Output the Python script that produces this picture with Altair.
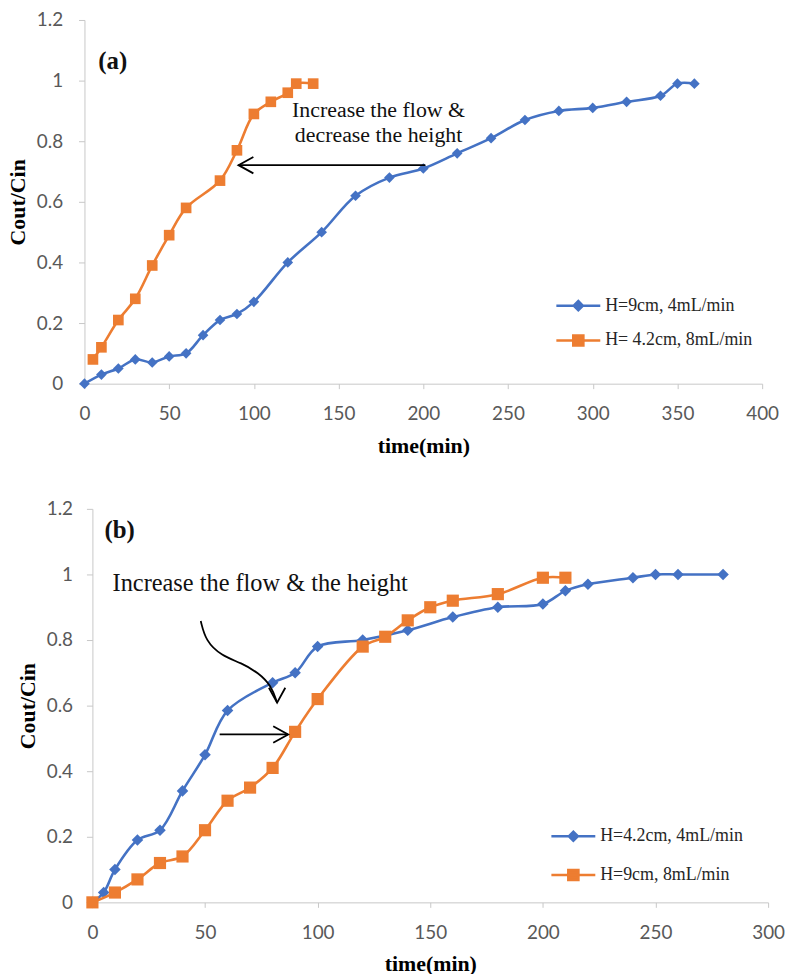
import altair as alt
import pandas as pd

# ---------------- data: panel (a) ----------------
a_series = ["H=9cm, 4mL/min", "H= 4.2cm, 8mL/min"]
a_blue_t = [0, 10, 20, 30, 40, 50, 60, 70, 80, 90, 100, 120, 140, 160, 180, 200, 220, 240, 260, 280, 300, 320, 340, 350, 360]
a_blue_c = [0, 0.03, 0.05, 0.08, 0.07, 0.09, 0.10, 0.16, 0.21, 0.23, 0.27, 0.40, 0.50, 0.62, 0.68, 0.71, 0.76, 0.81, 0.87, 0.90, 0.91, 0.93, 0.95, 0.99, 0.99]
a_orange_t = [5, 10, 20, 30, 40, 50, 60, 80, 90, 100, 110, 120, 125, 135]
a_orange_c = [0.08, 0.12, 0.21, 0.28, 0.39, 0.49, 0.58, 0.67, 0.77, 0.89, 0.93, 0.96, 0.99, 0.99]
a_x_ticks = [0, 50, 100, 150, 200, 250, 300, 350, 400]

# ---------------- data: panel (b) ----------------
b_series = ["H=4.2cm, 4mL/min", "H=9cm, 8mL/min"]
b_blue_t = [0, 5, 10, 20, 30, 40, 50, 60, 80, 90, 100, 120, 140, 160, 180, 200, 210, 220, 240, 250, 260, 280]
b_blue_c = [0, 0.03, 0.10, 0.19, 0.22, 0.34, 0.45, 0.585, 0.67, 0.70, 0.78, 0.80, 0.83, 0.87, 0.90, 0.91, 0.95, 0.97, 0.99, 1.0, 1.0, 1.0]
b_orange_t = [0, 10, 20, 30, 40, 50, 60, 70, 80, 90, 100, 120, 130, 140, 150, 160, 180, 200, 210]
b_orange_c = [0, 0.03, 0.07, 0.12, 0.14, 0.22, 0.31, 0.35, 0.41, 0.52, 0.62, 0.78, 0.81, 0.86, 0.90, 0.92, 0.94, 0.99, 0.99]
b_x_ticks = [0, 50, 100, 150, 200, 250, 300]

y_ticks = [0, 0.2, 0.4, 0.6, 0.8, 1, 1.2]

# ---------------- annotations ----------------
a_tag = ["(a)"]; a_tag_t = [16.7]; a_tag_c = [1.066]
a_note = ["Increase the flow &", "decrease the height"]; a_note_t = [173.6, 173.6]; a_note_c = [0.902, 0.820]
a_arrow_t = [201.2, 90.9]; a_arrow_c = [0.721]

b_tag = ["(b)"]; b_tag_t = [12.1]; b_tag_c = [1.136]
b_note = ["Increase the flow & the height"]; b_note_t = [74.5]; b_note_c = [0.970]
b_curve_t = [48.1, 50.3, 57.3, 66.2, 73.7, 79.4, 82.0]
b_curve_c = [0.858, 0.797, 0.752, 0.730, 0.700, 0.661, 0.609]
b_arrow_t = [56.5, 86.9]; b_arrow_c = [0.512]

BLUE = "#4472C4"
ORANGE = "#ED7D31"
SERIF = "Liberation Serif"
HEAD = "M1,-0.55L0,0L1,0.55"
LEG_DIAMOND = "M-1.3,0L1.3,0M-0.27,0L0,-0.27L0.27,0L0,0.27Z"
LEG_SQUARE = "M-1.3,0L1.3,0M-0.3,-0.3L0.3,-0.3L0.3,0.3L-0.3,0.3Z"


class Panel:
    def __init__(self, xmax, xticks, ylabpad, inset, width):
        if inset:
            self.xs = alt.Scale(domain=[0, xmax], nice=False, zero=True, range=[inset, width])
        else:
            self.xs = alt.Scale(domain=[0, xmax], nice=False, zero=True)
        self.ys = alt.Scale(domain=[0, 1.2], nice=False)
        self.ax = alt.Axis(values=xticks, format="d", title="time(min)", grid=False, labelFlush=False,
                           tickSize=5, labelPadding=16, titlePadding=12)
        self.ay = alt.Axis(values=y_ticks, format="~g", title="Cout/Cin", grid=False,
                           tickSize=6, labelPadding=ylabpad, titlePadding=7, offset=-inset)

    def X(self, f):
        return alt.X(f, type="quantitative", scale=self.xs, axis=self.ax, title="time(min)")

    def Y(self, f):
        return alt.Y(f, type="quantitative", scale=self.ys, axis=self.ay, title="Cout/Cin")


def series_layers(P, t, c, color, shape, size):
    df = pd.DataFrame({"t": t, "c": c})
    base = alt.Chart(df).encode(x=P.X("t"), y=P.Y("c"))
    line = base.mark_line(color=color, strokeWidth=2.6, interpolate="catmull-rom")
    pts = base.mark_point(shape=shape, filled=True, color=color, size=size, opacity=1)
    return [line, pts]


def legend_layer(P, series, leg_x, leg_y, rowpad):
    leg = alt.Legend(title=None, orient="none", legendX=leg_x, legendY=leg_y, symbolSize=1156,
                     symbolStrokeWidth=2.5, symbolOpacity=1, labelFont=SERIF, labelFontSize=18,
                     labelColor="#262626", labelOffset=8.5, rowPadding=rowpad, padding=0,
                     labelLimit=400)
    leg_df = pd.DataFrame({"series": series, "t": [0, 0], "c": [0, 0]})
    return alt.Chart(leg_df).mark_point(filled=True, opacity=1).encode(
        x=P.X("t"), y=P.Y("c"),
        fill=alt.Fill("series:N", scale=alt.Scale(domain=series, range=[BLUE, ORANGE]), legend=leg),
        stroke=alt.Stroke("series:N", scale=alt.Scale(domain=series, range=[BLUE, ORANGE]), legend=leg),
        shape=alt.Shape("series:N", scale=alt.Scale(domain=series, range=[LEG_DIAMOND, LEG_SQUARE]), legend=leg),
    ).transform_filter("false")


def text_layer(P, txt, t, c, size, weight="normal"):
    df = pd.DataFrame({"txt": txt, "t": t, "c": c})
    return alt.Chart(df).mark_text(font=SERIF, fontWeight=weight, fontSize=size, color="#111111",
                                   align="center", baseline="middle").encode(
        x=P.X("t"), y=P.Y("c"), text="txt:N")


def straight_arrow(P, ts, c, angle):
    df = pd.DataFrame({"t0": [ts[0]], "t1": [ts[1]], "c": c})
    rule = alt.Chart(df).mark_rule(color="black", strokeWidth=1.8).encode(
        x=P.X("t0"), x2="t1:Q", y=P.Y("c"))
    head = alt.Chart(df).mark_point(shape=HEAD, filled=False, color="black", strokeWidth=1.8,
                                    size=900, opacity=1, angle=angle).encode(x=P.X("t1"), y=P.Y("c"))
    return [rule, head]


# ---------- panel (a) ----------
PA = Panel(400, a_x_ticks, 16, 0, 682)
layers_a = []
layers_a += series_layers(PA, a_blue_t, a_blue_c, BLUE, "diamond", 115)
layers_a += series_layers(PA, a_orange_t, a_orange_c, ORANGE, "square", 115)
layers_a += [text_layer(PA, a_tag, a_tag_t, a_tag_c, 25, "bold"),
             text_layer(PA, a_note, a_note_t, a_note_c, 22)]
layers_a += straight_arrow(PA, a_arrow_t, a_arrow_c, 0)
layers_a += [legend_layer(PA, a_series, 478.5, 269, 6)]
chart_a = alt.layer(*layers_a).properties(width=682, height=366)

# ---------- panel (b) ----------
PB = Panel(300, b_x_ticks, 14, 8, 688)
layers_b = []
layers_b += series_layers(PB, b_blue_t, b_blue_c, BLUE, "diamond", 135)
layers_b += series_layers(PB, b_orange_t, b_orange_c, ORANGE, "square", 150)
layers_b += [text_layer(PB, b_tag, b_tag_t, b_tag_c, 25, "bold"),
             text_layer(PB, b_note, b_note_t, b_note_c, 24.5)]
curve_df = pd.DataFrame({"t": b_curve_t, "c": b_curve_c, "o": list(range(len(b_curve_t)))})
layers_b += [alt.Chart(curve_df).mark_line(color="black", strokeWidth=1.8, interpolate="basis").encode(
    x=PB.X("t"), y=PB.Y("c"), order="o:Q")]
head_df = pd.DataFrame({"t": [b_curve_t[-1]], "c": [b_curve_c[-1]]})
layers_b += [alt.Chart(head_df).mark_point(shape=HEAD, filled=False, color="black", strokeWidth=1.8,
                                           size=900, opacity=1, angle=270).encode(x=PB.X("t"), y=PB.Y("c"))]
layers_b += straight_arrow(PB, b_arrow_t, b_arrow_c, 180)
layers_b += [legend_layer(PB, b_series, 473.5, 311, 10)]
chart_b = alt.layer(*layers_b).properties(width=688, height=396)

chart = alt.vconcat(chart_a, chart_b, spacing=44).resolve_scale(
    fill="independent", stroke="independent", shape="independent"
).properties(
    padding={"left": 6, "top": 8, "right": 0, "bottom": 0},
    background="white",
).configure_view(strokeWidth=0).configure_axis(
    grid=False, domainColor="#c8c8c8", tickColor="#c8c8c8", labelFont="Lato", labelFontSize=19,
    labelColor="#595959", titleFont=SERIF, titleFontWeight="bold", titleFontSize=22, titleColor="black",
)

chart.save("out.html", embed_options={"renderer": "svg", "actions": False})
